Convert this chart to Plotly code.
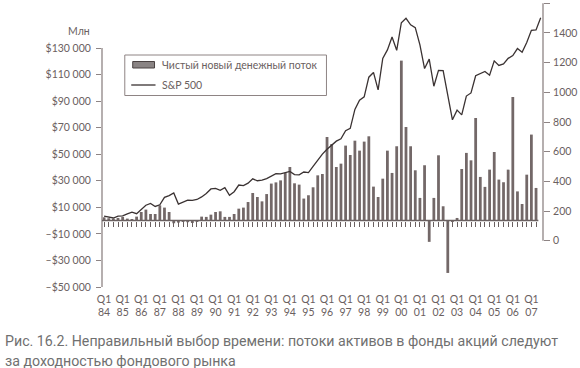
import plotly.graph_objects as go

# ---------------- data ----------------
years = list(range(1984, 2008))
quarters = [f"{y} Q{q}" for y in years for q in range(1, 5)][:95]

# Net new cash flow to equity funds, $ mln, 1984 Q1 .. 2007 Q2 (94 quarters)
net_flow = [
    2500, 1800, 1500, 2000, 2800, 1500, 1200, 3000,
    6500, 8300, 5000, 5000, 11500, 9800, 6500, -2000,
    -1500, -1000, -1200, -1800, -1000, 3000, 2800, 4500,
    6500, 7000, 2800, 2800, 5000, 9000, 9800, 14000,
    20800, 17800, 14500, 20000, 27900, 28800, 30300, 35900,
    40400, 28100, 27100, 16600, 19100, 25100, 34100, 35100,
    63000, 57700, 40400, 42900, 56500, 49400, 60200, 52700,
    59500, 63500, 25600, 17800, 31600, 52700, 35900, 56000,
    120500, 70500, 56000, 37900, 17100, 41700, -16000, 17100,
    49200, 10800, -39400, -1000, 2000, 38900, 51000, 45400,
    77300, 32900, 25400, 38400, 51700, 30900, 28900, 38400,
    93100, 22000, 12500, 34600, 64800, 24600,
]

# S&P 500 level at quarter ends (95 points)
sp500 = [
    165, 159, 153, 166, 167, 181, 192, 182, 211, 239, 251, 231, 242,
    292, 304, 322, 247, 259, 274, 272, 278, 295, 318, 349, 353,
    340, 358, 306, 330, 375, 371, 388, 417, 404, 408, 418, 436,
    452, 450, 459, 467, 446, 444, 463, 459, 501, 545, 584, 616,
    645, 671, 687, 741, 757, 885, 947, 970, 1102, 1134, 1017, 1229,
    1286, 1373, 1283, 1469, 1499, 1455, 1436, 1320, 1160, 1224, 1041, 1148,
    1147, 990, 815, 880, 848, 975, 996, 1112, 1126, 1141, 1115, 1212,
    1181, 1191, 1229, 1248, 1295, 1270, 1336, 1418, 1421, 1503,
]

left_ticks = [130000, 110000, 90000, 70000, 50000, 30000, 10000, -10000, -30000, -50000]
left_labels = ["$130 000", "$110 000", "$90 000", "$70 000", "$50 000", "$30 000",
               "$10 000", "–$10 000", "–$30 000", "–$50 000"]
right_ticks = [0, 200, 400, 600, 800, 1000, 1200, 1400, 1600]
x_tick_cats = quarters[0:93:4]
x_tick_text = [f"Q1<br>{str(y)[2:]}" for y in years]

flow_name = "Чистый новый денежный поток"
line_name = "S&P 500"
caption1 = "Рис. 16.2. Неправильный выбор времени: потоки активов в фонды акций следуют"
caption2 = "за доходностью фондового рынка"

# ---------------- layout geometry ----------------
W, H = 580, 368
L, R, T, B = 102, 33, 3, 81
PW, PH = W - L - R, H - T - B


def px(xp):
    return (xp - L) / PW


def py(yp):
    return (H - B - yp) / PH


AX = "#8e8484"
TXT = "#6a6060"
BAR = "#736868"
LINE = "#3a3232"
FONT = "Lato, Open Sans, sans-serif"

xr = [-0.45, 94.5]
y_range = [-50000, 163900]
y2_range = [-312, 1602]

fig = go.Figure()
fig.add_trace(go.Bar(
    x=quarters[:len(net_flow)], y=net_flow, name=flow_name,
    marker=dict(color=BAR, line=dict(width=0)), width=0.6,
    showlegend=False, xaxis="x", yaxis="y",
))
fig.add_trace(go.Scatter(
    x=quarters[:len(sp500)], y=sp500, name=line_name, mode="lines",
    line=dict(color=LINE, width=1.3), showlegend=False,
    xaxis="x", yaxis="y2",
))

tickfont = dict(family=FONT, size=10.5, color=TXT)

fig.update_layout(
    width=W, height=H,
    margin=dict(l=L, r=R, t=T, b=B, pad=0),
    paper_bgcolor="white", plot_bgcolor="white",
    bargap=0.4,
    font=dict(family=FONT, color=TXT),
    xaxis=dict(
        type="category", categoryorder="array", categoryarray=quarters,
        range=xr, tickmode="array", tickvals=x_tick_cats, ticktext=x_tick_text,
        ticks="", showline=False, showgrid=False, zeroline=False,
        tickfont=tickfont, ticklabelstandoff=4,
    ),
    xaxis2=dict(
        overlaying="x", anchor="free", position=py(220.6), type="linear",
        range=xr, tickmode="array", tickvals=list(range(len(net_flow))),
        ticks="outside", ticklen=5, tickwidth=1, tickcolor="#6a6060",
        showticklabels=False, showline=False, showgrid=False, zeroline=False,
    ),
    yaxis=dict(
        range=y_range, tickmode="array", tickvals=left_ticks, ticktext=left_labels,
        ticks="outside", ticklen=5, tickwidth=1, tickcolor=AX,
        showline=False, showgrid=False, zeroline=False,
        tickfont=tickfont, ticklabelstandoff=3,
    ),
    yaxis3=dict(
        overlaying="y", anchor="x", side="left", range=y_range,
        tickmode="array", tickvals=left_ticks, ticks="inside", ticklen=4,
        tickwidth=1, tickcolor=AX, showticklabels=False, showline=False,
        showgrid=False, zeroline=False,
    ),
    yaxis2=dict(
        overlaying="y", side="right", anchor="x", range=y2_range,
        tickmode="array", tickvals=right_ticks,
        ticks="outside", ticklen=6, tickwidth=1, tickcolor=AX,
        showline=False, showgrid=False, zeroline=False,
        tickfont=dict(family=FONT, size=10.5, color=TXT), ticklabelstandoff=1,
    ),
    yaxis4=dict(
        overlaying="y", side="right", anchor="x", range=y2_range,
        tickmode="array", tickvals=right_ticks, ticks="inside", ticklen=7,
        tickwidth=1, tickcolor=AX, showticklabels=False, showline=False,
        showgrid=False, zeroline=False,
    ),
)

shapes = []
# axis lines spanning tick ranges
shapes.append(dict(type="line", xref="paper", yref="y", x0=0, x1=0,
                   y0=min(left_ticks), y1=max(left_ticks), line=dict(color=AX, width=1.3)))
shapes.append(dict(type="line", xref="paper", yref="y2", x0=1, x1=1,
                   y0=min(right_ticks), y1=max(right_ticks), line=dict(color=AX, width=1.3)))
# zero line with quarter ticks
shapes.append(dict(type="line", xref="x2", yref="y", x0=-0.5, x1=len(net_flow) - 0.5,
                   y0=0, y1=0, line=dict(color="#6a6060", width=1.5)))
# legend box
shapes.append(dict(type="rect", xref="paper", yref="paper",
                   x0=px(125), x1=px(328.5), y0=py(55), y1=py(95.5),
                   line=dict(color=AX, width=1), fillcolor="white", layer="above"))
shapes.append(dict(type="rect", xref="paper", yref="paper",
                   x0=px(133), x1=px(155), y0=py(61.5), y1=py(68),
                   line=dict(color="#4a4242", width=1), fillcolor="#8a8484", layer="above"))
shapes.append(dict(type="line", xref="paper", yref="paper",
                   x0=px(131.5), x1=px(156), y0=py(85), y1=py(85),
                   line=dict(color=LINE, width=1.3), layer="above"))
fig.update_layout(shapes=shapes)

ann = []
ann.append(dict(xref="paper", yref="paper", x=px(161), y=py(65), xanchor="left",
                yanchor="middle", text=flow_name, showarrow=False,
                font=dict(family=FONT, size=10.5, color=TXT)))
ann.append(dict(xref="paper", yref="paper", x=px(161), y=py(85), xanchor="left",
                yanchor="middle", text=line_name, showarrow=False,
                font=dict(family=FONT, size=10.5, color=TXT)))
ann.append(dict(xref="paper", yref="paper", x=px(92), y=py(31), xanchor="right",
                yanchor="middle", text="Млн", showarrow=False,
                font=dict(family=FONT, size=10.5, color=TXT)))
ann.append(dict(xref="paper", yref="paper", x=px(2), y=py(341), xanchor="left",
                yanchor="middle", text=caption1, showarrow=False,
                font=dict(family="Roboto, sans-serif", size=14.2, color="#707070")))
ann.append(dict(xref="paper", yref="paper", x=px(2), y=py(361), xanchor="left",
                yanchor="middle", text=caption2, showarrow=False,
                font=dict(family="Roboto, sans-serif", size=14.2, color="#707070")))
fig.update_layout(annotations=ann)

fig.write_html("out.html", config={"displayModeBar": False},
               post_script="document.body.style.margin='0';")
